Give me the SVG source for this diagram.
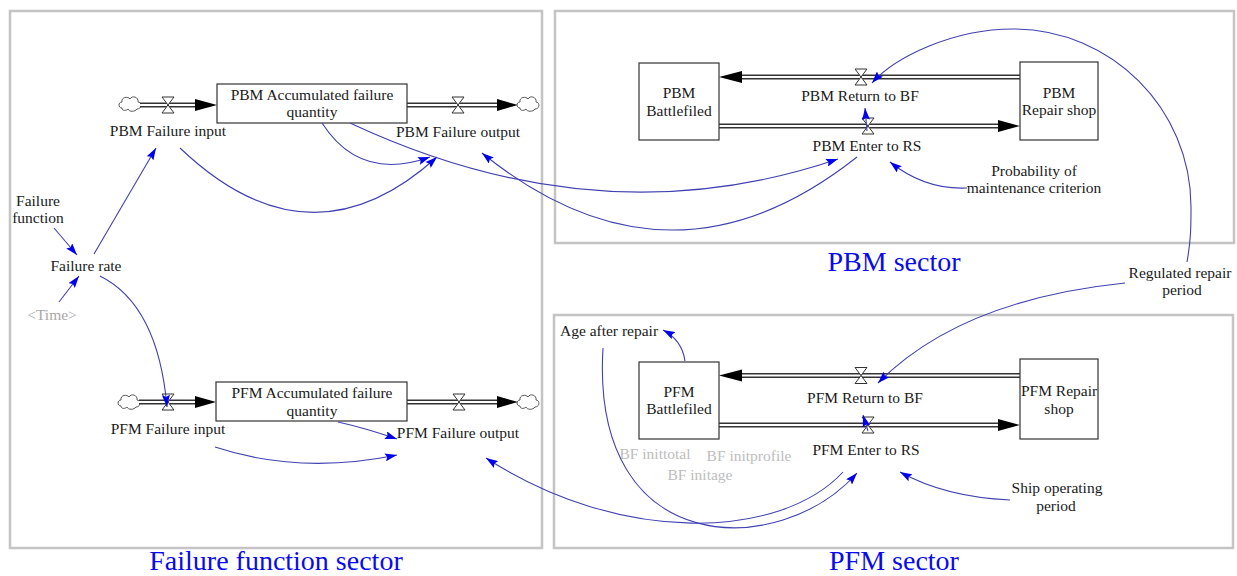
<svg xmlns="http://www.w3.org/2000/svg" width="1237" height="576" viewBox="0 0 1237 576">
<style>
.sector{fill:none;stroke:#c4c4c4;stroke-width:2.5}
.slabel{font-family:"Liberation Serif","Times New Roman",serif;font-size:28px;fill:#0a0aee;text-anchor:middle}
.t{font-family:"Liberation Serif","Times New Roman",serif;font-size:15.5px;fill:#1a1a1a;text-anchor:middle}
.g{fill:#a8a8a8}
.lg{fill:#bdbdbd}
.box{fill:#fff;stroke:#333;stroke-width:1.2}
.pipeo{stroke:#333;stroke-width:5;fill:none}
.pipei{stroke:#fff;stroke-width:2.2;fill:none}
.head{fill:#000}
.valve{fill:#fff;stroke:#333;stroke-width:1}
.cloud{fill:#fff;stroke:#555;stroke-width:1}
.link{fill:none;stroke:#4040b0;stroke-width:1.1;marker-end:url(#ah)}
</style>
<defs>
<marker id="ah" viewBox="0 0 12 8" refX="12" refY="4" markerWidth="12" markerHeight="8" markerUnits="userSpaceOnUse" orient="auto">
<path d="M0,0 L12,4 L0,8 L2,4 Z" fill="#0000ee"/>
</marker>
<path id="valveshape" class="valve" d="M-6,-8 L6,-8 L-6,8 L6,8 Z"/>
<path id="cloudshape" class="cloud" d="M-8,4 C-12,4 -12,-2 -8,-2 C-9,-7 -2,-8 0,-5 C2,-9 9,-7 8,-2 C12,-2 12,5 7,5 C5,8 -1,8 -2,5 C-4,7 -8,7 -8,4 Z"/>
</defs>
<rect width="1237" height="576" fill="#fff"/>

<g id="sectors">
<rect class="sector" x="10" y="11" width="532" height="537"/>
<rect class="sector" x="555" y="11" width="679" height="232"/>
<rect class="sector" x="554" y="315" width="679" height="233"/>
<text class="slabel" x="276" y="570">Failure function sector</text>
<text class="slabel" x="894" y="271">PBM sector</text>
<text class="slabel" x="894" y="570">PFM sector</text>
</g>

<g id="flows">
<g id="pbm-failure-input">
<use href="#cloudshape" x="130" y="104"/>
<line class="pipeo" x1="140" y1="105" x2="197" y2="105"/><line class="pipei" x1="140" y1="105" x2="197" y2="105"/>
<polygon class="head" points="195,99 217,105 195,111"/>
<use href="#valveshape" x="168" y="105"/>
<text class="t" x="168" y="136">PBM Failure input</text>
</g>
<g id="pbm-failure-output">
<line class="pipeo" x1="407" y1="105" x2="499" y2="105"/><line class="pipei" x1="407" y1="105" x2="499" y2="105"/>
<polygon class="head" points="497,99 518,105 497,111"/>
<use href="#cloudshape" x="528" y="104"/>
<use href="#valveshape" x="458" y="105"/>
<text class="t" x="458" y="137">PBM Failure output</text>
</g>
<g id="pfm-failure-input">
<use href="#cloudshape" x="129" y="402"/>
<line class="pipeo" x1="139" y1="402" x2="197" y2="402"/><line class="pipei" x1="139" y1="402" x2="197" y2="402"/>
<polygon class="head" points="195,396 216,402 195,408"/>
<use href="#valveshape" x="168" y="402"/>
<text class="t" x="168" y="434">PFM Failure input</text>
</g>
<g id="pfm-failure-output">
<line class="pipeo" x1="407" y1="402" x2="499" y2="402"/><line class="pipei" x1="407" y1="402" x2="499" y2="402"/>
<polygon class="head" points="497,396 518,402 497,408"/>
<use href="#cloudshape" x="528" y="402"/>
<use href="#valveshape" x="459" y="402"/>
<text class="t" x="458" y="438">PFM Failure output</text>
</g>
<g id="pbm-return">
<line class="pipeo" x1="1020" y1="77" x2="740" y2="77"/><line class="pipei" x1="1020" y1="77" x2="740" y2="77"/>
<polygon class="head" points="742,71 719,77 742,83"/>
<use href="#valveshape" x="861" y="77"/>
<text class="t" x="860" y="101">PBM Return to BF</text>
</g>
<g id="pbm-enter">
<line class="pipeo" x1="719" y1="126" x2="1000" y2="126"/><line class="pipei" x1="719" y1="126" x2="1000" y2="126"/>
<polygon class="head" points="998,120 1020,126 998,132"/>
<use href="#valveshape" x="868" y="126"/>
<text class="t" x="867" y="151">PBM Enter to RS</text>
</g>
<g id="pfm-return">
<line class="pipeo" x1="1020" y1="375.5" x2="740" y2="375.5"/><line class="pipei" x1="1020" y1="375.5" x2="740" y2="375.5"/>
<polygon class="head" points="742,369.5 719,375.5 742,381.5"/>
<use href="#valveshape" x="861" y="375.5"/>
<text class="t" x="865" y="403">PFM Return to BF</text>
</g>
<g id="pfm-enter">
<line class="pipeo" x1="719" y1="425" x2="1000" y2="425"/><line class="pipei" x1="719" y1="425" x2="1000" y2="425"/>
<polygon class="head" points="998,419 1020,425 998,431"/>
<use href="#valveshape" x="868" y="425"/>
<text class="t" x="866" y="455">PFM Enter to RS</text>
</g>
</g>

<g id="stocks">
<g id="pbm-accumulated">
<rect class="box" x="217" y="84" width="190" height="39"/>
<text class="t" x="312" y="100">PBM Accumulated failure</text>
<text class="t" x="312" y="117">quantity</text>
</g>
<g id="pfm-accumulated">
<rect class="box" x="216" y="382" width="191" height="39"/>
<text class="t" x="312" y="398">PFM Accumulated failure</text>
<text class="t" x="312" y="416">quantity</text>
</g>
<g id="pbm-battlefield">
<rect class="box" x="639" y="63" width="80" height="77"/>
<text class="t" x="679" y="98">PBM</text>
<text class="t" x="679" y="116">Battlefiled</text>
</g>
<g id="pbm-repair-shop">
<rect class="box" x="1020" y="62" width="78" height="78"/>
<text class="t" x="1059" y="98">PBM</text>
<text class="t" x="1059" y="115">Repair shop</text>
</g>
<g id="pfm-battlefield">
<rect class="box" x="639" y="362" width="80" height="77"/>
<text class="t" x="679" y="397">PFM</text>
<text class="t" x="679" y="414">Battlefiled</text>
</g>
<g id="pfm-repair-shop">
<rect class="box" x="1020" y="359" width="78" height="80"/>
<text class="t" x="1059" y="396">PFM Repair</text>
<text class="t" x="1059" y="414">shop</text>
</g>
</g>

<g id="variables">
<g id="failure-function"><text class="t" x="38" y="206">Failure</text><text class="t" x="38" y="223">function</text></g>
<g id="failure-rate"><text class="t" x="86" y="271">Failure rate</text></g>
<g id="time"><text class="t g" x="52" y="320">&lt;Time&gt;</text></g>
<g id="probability"><text class="t" x="1034" y="176">Probability of</text><text class="t" x="1034" y="193">maintenance criterion</text></g>
<g id="regulated-repair-period"><text class="t" x="1180" y="278">Regulated repair</text><text class="t" x="1182" y="295">period</text></g>
<g id="age-after-repair"><text class="t" x="609" y="336">Age after repair</text></g>
<g id="ship-operating-period"><text class="t" x="1057" y="493">Ship operating</text><text class="t" x="1056" y="511">period</text></g>
<g id="bf-inittotal"><text class="t lg" x="655" y="459">BF inittotal</text></g>
<g id="bf-initprofile"><text class="t lg" x="749" y="461">BF initprofile</text></g>
<g id="bf-initage"><text class="t lg" x="700" y="480">BF initage</text></g>
</g>

<g id="connectors">
<path class="link" d="M54,228 L77,255"/>
<path class="link" d="M59,302 L79,276"/>
<path class="link" d="M94,254 L156,148"/>
<path class="link" d="M100,276 Q158,305 167,407"/>
<path class="link" d="M180,148 Q310,272 437,157"/>
<path class="link" d="M322,123 Q360,182 430,157"/>
<path class="link" d="M350,123 Q600,240 838,159"/>
<path class="link" d="M857,157 Q670,305 482,153"/>
<path class="link" d="M967,188 Q925,190 890,162"/>
<path class="link" d="M867,131 L865,108"/>
<path class="link" d="M1187,262 C1191,240 1191,225 1191,207 C1191,108.7 1111.3,29 1013,29 C953,29 895,57 872,83"/>
<path class="link" d="M1125,283 Q960,300 878,383"/>
<path class="link" d="M1010,500 Q945,497 900,472"/>
<path class="link" d="M868,431 L863,415"/>
<path class="link" d="M685,361 Q682,340 663,330"/>
<path class="link" d="M603,348 C590,560 780,560 857,473"/>
<path class="link" d="M843,472 C780,540 620,545 486,458"/>
<path class="link" d="M338,422 Q365,428 397,439"/>
<path class="link" d="M215,447 Q300,475 397,455"/>
</g>
</svg>
